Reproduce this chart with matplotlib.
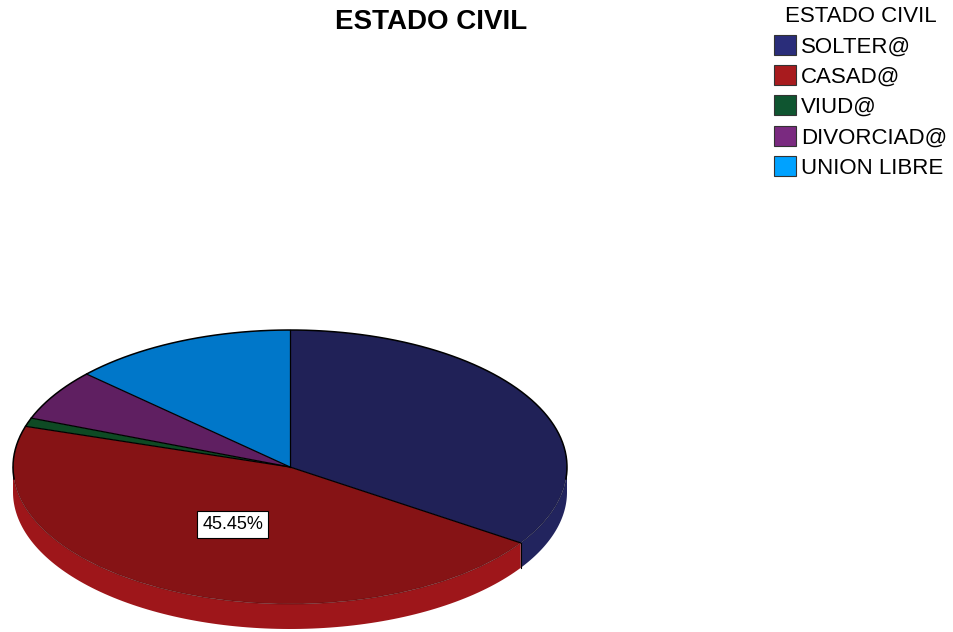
import numpy as np
import matplotlib.pyplot as plt
from matplotlib.patches import Wedge, Polygon, Patch
from matplotlib.transforms import Affine2D

plt.rcParams['font.family'] = ['Liberation Sans', 'DejaVu Sans']

# DATOS (frecuencias)
categorias = ['SOLTER@', 'CASAD@', 'VIUD@', 'DIVORCIAD@', 'UNION LIBRE']
frecuencias = [34, 45, 1, 6, 13]
colores_cara = ['#202157', '#861315', '#0e4a24', '#5f1f61', '#0077c9']
colores_lado = ['#22245e', '#9e161a', '#105429', '#6c2470', '#0085dd']
colores_leyenda = ['#2a2d7a', '#a81b1e', '#0f5530', '#7a2a80', '#00a2ff']
etiqueta_visible = 'CASAD@'
titulo = 'ESTADO CIVIL'

fig = plt.figure(figsize=(9.54, 6.32), dpi=100)
ax = fig.add_axes([0, 0, 1, 1])
ax.set_xlim(0, 954)
ax.set_ylim(0, 632)
ax.axis('off')

# geometria del pastel 3D (pixeles)
cx, cy = 290, 165
rx, ry = 277, 137
prof = 25
elipse = Affine2D().scale(rx, ry).translate(cx, cy) + ax.transData

total = sum(frecuencias)
acum = np.cumsum([0] + frecuencias) / total
t_fin = 90 - acum[:-1] * 360
t_ini = 90 - acum[1:] * 360

# lados visibles (mitad delantera)
for i in range(len(frecuencias)):
    a = max(t_ini[i], -180)
    b = min(t_fin[i], 0)
    if b <= a:
        continue
    t = np.radians(np.linspace(a, b, 120))
    x = cx + rx * np.cos(t)
    y = cy + ry * np.sin(t)
    pts = np.column_stack([np.r_[x, x[::-1]], np.r_[y, y[::-1] - prof]])
    ax.add_patch(Polygon(pts, closed=True, facecolor=colores_lado[i], edgecolor='none'))

for ang in t_ini[:-1]:
    if -180 < ang < 0:
        xb = cx + rx * np.cos(np.radians(ang))
        yb = cy + ry * np.sin(np.radians(ang))
        ax.plot([xb, xb], [yb, yb - prof], color='black', lw=0.8)

# cara superior
for i in range(len(frecuencias)):
    ax.add_patch(Wedge((0, 0), 1, t_ini[i], t_fin[i], facecolor=colores_cara[i],
                       edgecolor='none', transform=elipse))

# bordes: radios y arco trasero en negro, arco delantero suave
for ang in t_fin:
    r = np.radians(ang)
    ax.plot([cx, cx + rx * np.cos(r)], [cy, cy + ry * np.sin(r)], color='black', lw=0.9)
tb = np.radians(np.linspace(-5, 185, 200))
ax.plot(cx + rx * np.cos(tb), cy + ry * np.sin(tb), color='black', lw=1.1)
tf = np.radians(np.linspace(-180, 0, 200))
ax.plot(cx + rx * np.cos(tf), cy + ry * np.sin(tf), color='black', lw=0.8, alpha=0.25)

# etiqueta de porcentaje
k = categorias.index(etiqueta_visible)
mid = np.radians((t_ini[k] + t_fin[k]) / 2)
ax.text(cx + 0.48 * rx * np.cos(mid), cy + 0.48 * ry * np.sin(mid) + 2,
        '%.2f%%' % (100 * frecuencias[k] / total), fontsize=13, ha='center', va='center',
        bbox=dict(boxstyle='square,pad=0.28', facecolor='white', edgecolor='black', linewidth=0.8))

fig.text(431 / 954, 1 - 22 / 632, titulo, fontsize=20, fontweight='bold', ha='center', va='center')

manijas = [Patch(facecolor=c, edgecolor='#333333', linewidth=0.8) for c in colores_leyenda]
fig.legend(manijas, categorias, title=titulo, loc='upper left',
           bbox_to_anchor=(774 / 954, 1 - 6 / 632), frameon=False, fontsize=16,
           title_fontsize=16, handlelength=1.0, handleheight=1.0, handletextpad=0.2,
           labelspacing=0.35, borderpad=0, borderaxespad=0)

fig.savefig('out.png', dpi=100)
